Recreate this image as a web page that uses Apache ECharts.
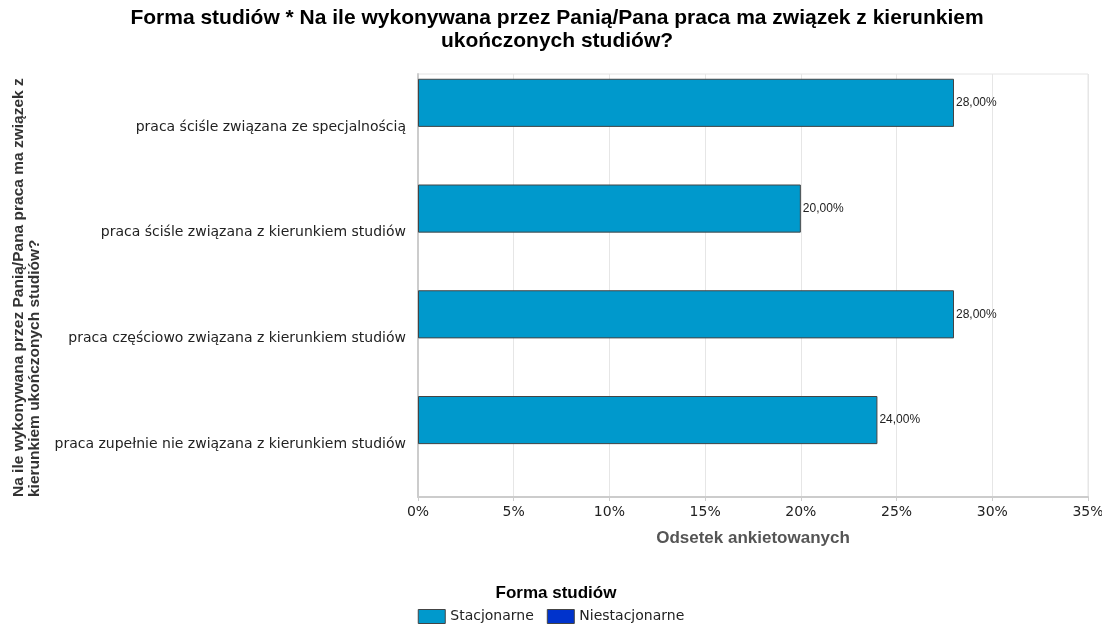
<!DOCTYPE html>
<html><head><meta charset="utf-8">
<script src="https://cdn.jsdelivr.net/npm/echarts@6/dist/echarts.min.js"></script>
<style>html,body{margin:0;padding:0;background:#fff}#c{width:1102px;height:625px}</style>
</head><body><div id="c"></div>
<script>
const categories = [
  'praca ściśle związana ze specjalnością',
  'praca ściśle związana z kierunkiem studiów',
  'praca częściowo związana z kierunkiem studiów',
  'praca zupełnie nie związana z kierunkiem studiów'
];
const stacjonarne = [28, 20, 28, 24];
const niestacjonarne = [0, 0, 0, 0];
const xTicks = [0, 5, 10, 15, 20, 25, 30, 35];
const seriesNames = ['Stacjonarne', 'Niestacjonarne'];

const chart = echarts.init(document.getElementById('c'), null, {renderer: 'canvas'});
chart.setOption({
  animation: false,
  backgroundColor: '#fff',
  title: [{
    text: 'Forma studiów * Na ile wykonywana przez Panią/Pana praca ma związek z kierunkiem\nukończonych studiów?',
    left: 552, top: 2, textAlign: 'center',
    textStyle: {fontFamily: 'Liberation Sans', fontWeight: 'bold', fontSize: 21, color: '#000', lineHeight: 23}
  }, {
    text: 'Forma studiów',
    left: 551, top: 580, textAlign: 'center',
    textStyle: {fontFamily: 'Liberation Sans Narrow, Liberation Sans', fontWeight: 'bold', fontSize: 17, color: '#000'}
  }],
  legend: {
    data: [
      {name: seriesNames[0], itemStyle: {borderColor: '#444', borderWidth: 1}},
      {name: seriesNames[1], itemStyle: {borderColor: '#444', borderWidth: 1}}
    ],
    left: 'center', top: 604,
    itemWidth: 27, itemHeight: 14, itemGap: 13,
    icon: 'rect',
    textStyle: {fontFamily: 'DejaVu Sans', fontSize: 14, color: '#222'}
  },
  grid: {left: 418, right: 14, top: 74, bottom: 128, show: true, borderColor: '#e4e4e4', borderWidth: 1, outerBoundsMode: 'none', containLabel: false},
  graphic: [{
    type: 'text', x: 27, y: 497, rotation: Math.PI / 2,
    style: {
      text: 'Na ile wykonywana przez Panią/Pana praca ma związek z\nkierunkiem ukończonych studiów?',
      fontFamily: 'Liberation Sans', fontWeight: 'bold', fontSize: 15.5, fill: '#333',
      lineHeight: 16, align: 'left', verticalAlign: 'middle'
    }
  }],
  xAxis: {
    type: 'value', min: 0, max: 35, interval: 5,
    name: 'Odsetek ankietowanych', nameLocation: 'middle', nameGap: 33,
    nameTextStyle: {fontFamily: 'Liberation Sans Narrow, Liberation Sans', fontWeight: 'bold', fontSize: 17, color: '#555'},
    axisLine: {show: true, lineStyle: {color: '#cccccc', width: 2}},
    axisTick: {show: true, length: 4, lineStyle: {color: '#cccccc'}},
    axisLabel: {formatter: v => xTicks.includes(v) ? v + '%' : '', fontFamily: 'DejaVu Sans', fontSize: 14, color: '#222', margin: 8},
    splitLine: {show: true, lineStyle: {color: '#e6e6e6'}}
  },
  yAxis: {
    type: 'category', data: categories, inverse: true,
    axisLine: {show: true, lineStyle: {color: '#cccccc', width: 2}},
    axisTick: {show: false},
    axisLabel: {fontFamily: 'DejaVu Sans', fontSize: 14, color: '#222', margin: 12}
  },
  series: [{
    name: seriesNames[0], type: 'bar', data: stacjonarne,
    barGap: '0%', barCategoryGap: '9%',
    itemStyle: {color: '#0099cc', borderColor: '#444', borderWidth: 1},
    label: {show: true, position: 'right', distance: 2, formatter: p => p.value.toFixed(2).replace('.', ',') + '%',
      fontFamily: 'Liberation Sans', fontSize: 12, color: '#222'}
  }, {
    name: seriesNames[1], type: 'bar', data: niestacjonarne,
    barGap: '0%', barCategoryGap: '9%',
    itemStyle: {color: '#0033cc', borderColor: '#444', borderWidth: 0},
    label: {show: false}
  }]
});
</script></body></html>
